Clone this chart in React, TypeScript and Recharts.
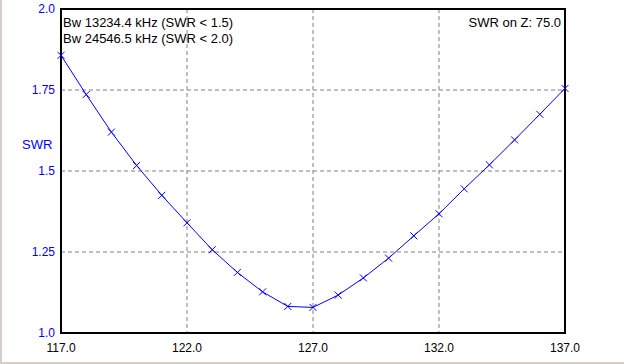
import { LineChart, Line, XAxis, YAxis, CartesianGrid, ReferenceArea } from "recharts";

// frequency (MHz) and SWR
const freqs = [117, 118, 119, 120, 121, 122, 123, 124, 125, 126, 127, 128, 129, 130, 131, 132, 133, 134, 135, 136, 137];
const swr = [1.857, 1.736, 1.62, 1.517, 1.425, 1.34, 1.257, 1.187, 1.127, 1.082, 1.079, 1.117, 1.17, 1.231, 1.3, 1.368, 1.445, 1.519, 1.596, 1.675, 1.755];
const xTicks = [117, 122, 127, 132, 137];
const yTicks = [1, 1.25, 1.5, 1.75, 2];
const yTickLabels = ["1.0", "1.25", "1.5", "1.75", "2.0"];

const data = freqs.map((f, i) => ({ f, swr: swr[i] }));

const font = "'Liberation Sans', Arial, sans-serif";

function XMark(props: any) {
  const { cx, cy } = props;
  if (cx == null || cy == null) return null;
  const s = 3.5;
  return (
    <g stroke="#0000ff" strokeWidth={1}>
      <line x1={cx - s} y1={cy - s} x2={cx + s} y2={cy + s} />
      <line x1={cx - s} y1={cy + s} x2={cx + s} y2={cy - s} />
    </g>
  );
}

export default function App() {
  return (
    <div style={{ position: "absolute", left: 0, top: 0, width: 624, height: 364, background: "#fff", fontFamily: font }}>
      <LineChart width={624} height={364} data={data} margin={{ top: 9, right: 59, bottom: 0, left: 0 }}>
        <CartesianGrid stroke="#808080" strokeDasharray="4 3" horizontalValues={yTicks} verticalValues={xTicks} />
        <XAxis
          dataKey="f"
          type="number"
          domain={[117, 137]}
          ticks={xTicks}
          tickFormatter={(v: number) => v.toFixed(1)}
          height={31}
          axisLine={false}
          tickLine={false}
          tickSize={0}
          tickMargin={10}
          tick={{ fill: "#000", fontSize: 12, fontFamily: font }}
        />
        <YAxis
          type="number"
          domain={[1, 2]}
          ticks={yTicks}
          tickFormatter={(v: number) => yTickLabels[yTicks.indexOf(v)] ?? String(v)}
          width={61}
          axisLine={false}
          tickLine={false}
          tickSize={0}
          tickMargin={6}
          tick={{ fill: "#0000ff", fontSize: 12, fontFamily: font }}
        />
        <ReferenceArea x1={117} x2={137} y1={1} y2={2} fill="none" stroke="#000" strokeWidth={2} ifOverflow="visible" />
        <Line
          type="linear"
          dataKey="swr"
          stroke="#0000ff"
          strokeWidth={1}
          dot={<XMark />}
          activeDot={false}
          isAnimationActive={false}
        />
      </LineChart>
      <div style={{ position: "absolute", left: 22, top: 137, fontSize: 13, color: "#0000ff", lineHeight: "16px" }}>SWR</div>
      <div style={{ position: "absolute", left: 63, top: 15, fontSize: 13, color: "#000", lineHeight: "16px", whiteSpace: "pre" }}>
        <div>Bw 13234.4 kHz (SWR &lt; 1.5)</div>
        <div>Bw 24546.5 kHz (SWR &lt; 2.0)</div>
      </div>
      <div style={{ position: "absolute", right: 63, top: 15, fontSize: 13, color: "#000", lineHeight: "16px" }}>SWR on Z: 75.0</div>
      <div style={{ position: "absolute", left: 0, top: 0, width: 2, height: 364, background: "#d4d0c8" }} />
      <div style={{ position: "absolute", left: 0, top: 362, width: 624, height: 2, background: "#d4d0c8" }} />
    </div>
  );
}
